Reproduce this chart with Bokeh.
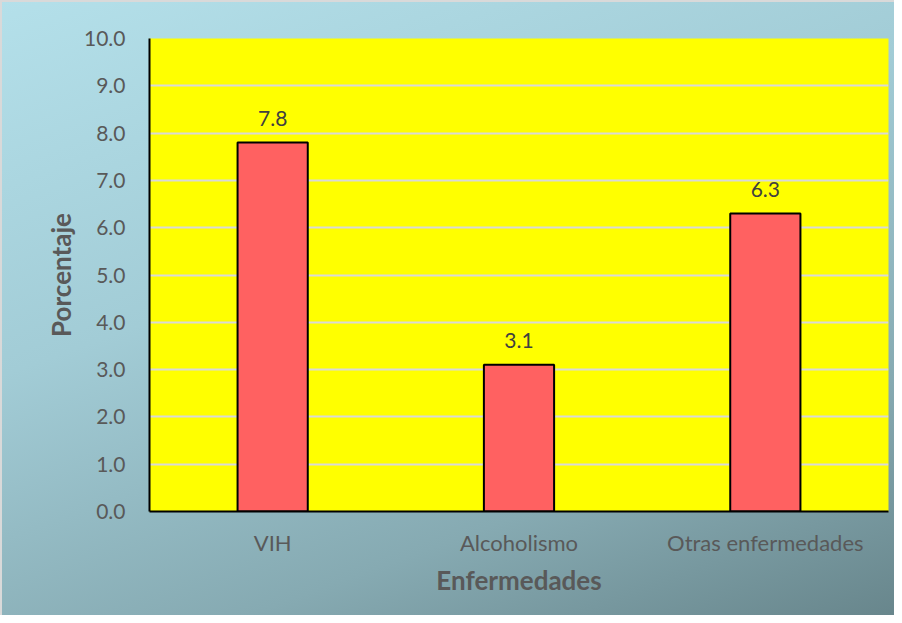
from bokeh.plotting import figure
from bokeh.models import FactorRange, Range1d, FixedTicker, NumeralTickFormatter, ColumnDataSource, LabelSet, InlineStyleSheet
from bokeh.core.properties import value
from bokeh.embed import file_html
from bokeh.resources import INLINE

categories = ["VIH", "Alcoholismo", "Otras enfermedades"]
values = [7.8, 3.1, 6.3]
labels = ["7.8", "3.1", "6.3"]
y_ticks = [0, 1, 2, 3, 4, 5, 6, 7, 8, 9, 10]

FONT = "Lato"

src = ColumnDataSource(dict(cat=categories, val=values, lab=labels))

p = figure(width=894, height=615, x_range=FactorRange(*categories, range_padding=0),
           y_range=Range1d(0, 10), output_backend="svg", toolbar_location=None,
           min_border_left=149, min_border_right=6, min_border_top=38, min_border_bottom=104)
p.border_fill_color = None
p.background_fill_color = "#ffff00"
p.outline_line_color = None
p.stylesheets = [InlineStyleSheet(css=":host { background: linear-gradient(160deg, #b4e0ea 0%, #a2ccd6 40%, #86aab2 75%, #68868c 100%); box-shadow: inset 2px 2px 0 0 #d9d9d9; }")]

p.vbar(x="cat", top="val", width=0.285, source=src, fill_color="#ff6161",
       line_color="black", line_width=2)

p.add_layout(LabelSet(x="cat", y="val", text="lab", source=src, text_align="center",
                      text_baseline="bottom", y_offset=17, text_font=value(FONT),
                      text_font_size="21px", text_color="#404040"))

p.yaxis.ticker = FixedTicker(ticks=y_ticks)
p.yaxis.formatter = NumeralTickFormatter(format="0.0")
p.ygrid.grid_line_color = "#d9d9d9"
p.ygrid.grid_line_width = 2
p.xgrid.grid_line_color = None

for ax in (p.xaxis, p.yaxis):
    ax.axis_line_color = "black"
    ax.axis_line_width = 2
    ax.major_tick_line_color = None
    ax.minor_tick_line_color = None
    ax.major_label_text_font = FONT
    ax.major_label_text_color = "#595959"
    ax.axis_label_text_font = FONT
    ax.axis_label_text_font_size = "26px"
    ax.axis_label_text_font_style = "bold"
    ax.axis_label_text_color = "#595959"

p.yaxis.major_label_text_font_size = "21px"
p.xaxis.major_label_text_font_size = "22px"
p.yaxis.major_label_standoff = 18
p.xaxis.major_label_standoff = 11
p.yaxis.axis_label = "Porcentaje"
p.xaxis.axis_label = "Enfermedades"
p.yaxis.axis_label_standoff = 4
p.xaxis.axis_label_standoff = 5

open("out.html", "w").write(file_html(p, INLINE))
